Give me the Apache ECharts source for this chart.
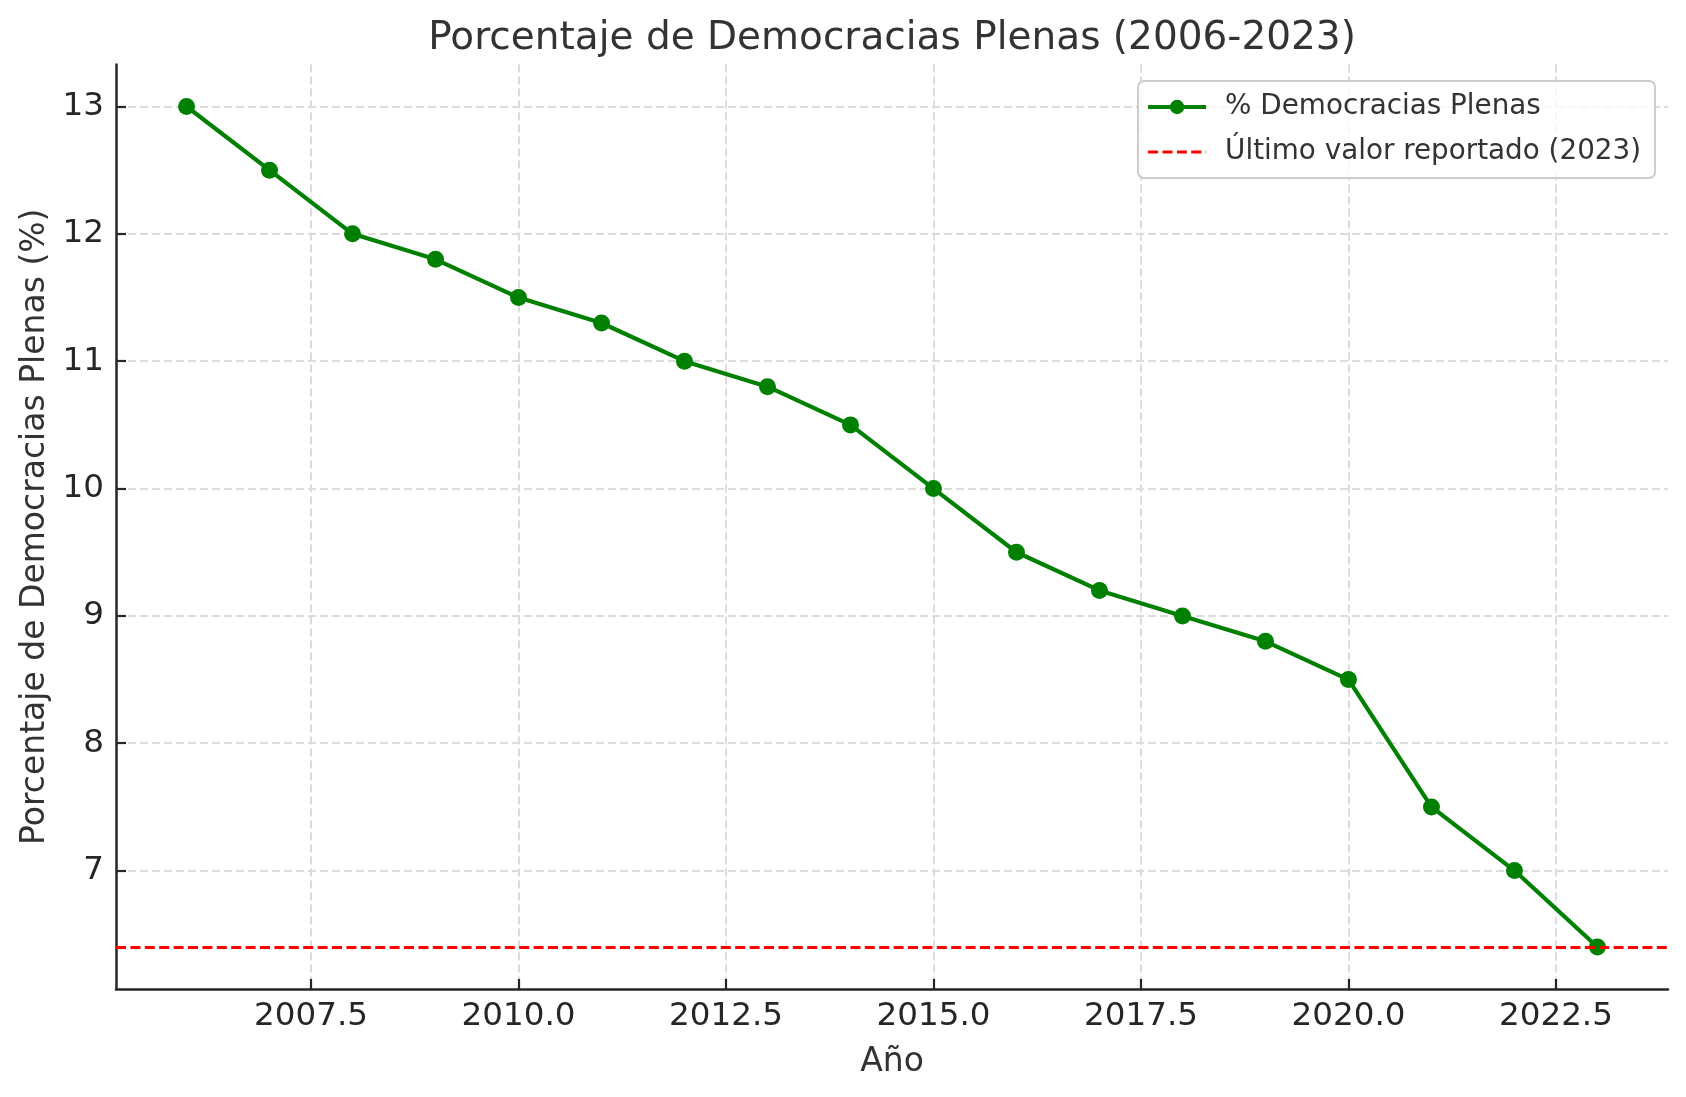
<!DOCTYPE html>
<html>
<head>
<meta charset="utf-8">
<script src="https://cdn.jsdelivr.net/npm/echarts@6/dist/echarts.min.js"></script>
<style>
html,body{margin:0;padding:0;background:#fff;}
#chart{width:1686px;height:1097px;}
</style>
</head>
<body>
<div id="chart"></div>
<script>
const years = [2006, 2007, 2008, 2009, 2010, 2011, 2012, 2013, 2014, 2015, 2016, 2017, 2018, 2019, 2020, 2021, 2022, 2023];
const percentages = [13, 12.5, 12, 11.8, 11.5, 11.3, 11, 10.8, 10.5, 10, 9.5, 9.2, 9, 8.8, 8.5, 7.5, 7, 6.4];
const lastValue = 6.4;
const xTicks = [2007.5, 2010, 2012.5, 2015, 2017.5, 2020, 2022.5];
const yTicks = [7, 8, 9, 10, 11, 12, 13];
const seriesName = '% Democracias Plenas';
const refName = 'Último valor reportado (2023)';
const titleText = 'Porcentaje de Democracias Plenas (2006-2023)';
const xName = 'Año';
const yName = 'Porcentaje de Democracias Plenas (%)';

const FONT = 'DejaVu Sans';
const xMin = 2005.15, xMax = 2023.85;
const yMin = 6.07, yMax = 13.33;

const chart = echarts.init(document.getElementById('chart'));
const axisCommon = {
  axisLine: {show: true, lineStyle: {color: '#262626', width: 2.5}},
  axisTick: {show: true, inside: true, length: 10, lineStyle: {color: '#262626', width: 2.2}},
  splitLine: {show: true, lineStyle: {color: '#dcdcdc', width: 2, type: [8, 4]}},
};
chart.setOption({
  animation: false,
  backgroundColor: '#fff',
  title: {
    text: titleText, left: 887, textAlign: 'center', top: 14,
    textStyle: {fontFamily: FONT, fontSize: 39, fontWeight: 'normal', color: '#333'}
  },
  legend: {
    left: 1138, top: 81, orient: 'vertical',
    data: [
      {name: seriesName, lineStyle: {width: 4.2}},
      {name: refName, lineStyle: {width: 2.8}, itemStyle: {opacity: 0}}
    ],
    itemWidth: 58, itemHeight: 18, itemGap: 13,
    padding: [10, 14, 10, 8],
    borderColor: '#cccccc', borderWidth: 2, borderRadius: 6,
    backgroundColor: 'rgba(255,255,255,0.8)',
    textStyle: {fontFamily: FONT, fontSize: 27.8, color: '#333', lineHeight: 32, padding: [0, 0, 0, 14]}
  },
  grid: {left: 116, right: 18, top: 64.5, bottom: 108, containLabel: false},
  xAxis: Object.assign({}, axisCommon, {
    type: 'value', min: xMin, max: xMax,
    name: xName, nameLocation: 'middle', nameGap: 57,
    nameTextStyle: {fontFamily: FONT, fontSize: 33, color: '#333'},
    axisTick: Object.assign({}, axisCommon.axisTick, {customValues: xTicks}),
    axisLabel: {customValues: xTicks, margin: 11, fontFamily: FONT, fontSize: 32.6, color: '#262626',
      formatter: v => v.toFixed(1)},
  }),
  yAxis: Object.assign({}, axisCommon, {
    type: 'value', min: yMin, max: yMax,
    name: yName, nameLocation: 'middle', nameGap: 54,
    nameTextStyle: {fontFamily: FONT, fontSize: 33, color: '#333'},
    axisTick: Object.assign({}, axisCommon.axisTick, {customValues: yTicks}),
    axisLabel: {customValues: yTicks, margin: 12, fontFamily: FONT, fontSize: 32.6, color: '#262626'},
  }),
  series: [
    {
      name: seriesName, type: 'line', z: 3,
      data: years.map((y, i) => [y, percentages[i]]),
      symbol: 'circle', symbolSize: 17, showSymbol: true,
      itemStyle: {color: 'green'},
      lineStyle: {color: 'green', width: 4.2}
    },
    {
      name: refName, type: 'line', z: 1, data: [], symbol: 'none',
      itemStyle: {color: 'red'},
      lineStyle: {color: 'red', width: 2.8, type: [10, 4.4]},
      markLine: {
        silent: true, symbol: 'none', label: {show: false},
        lineStyle: {color: 'red', width: 2.8, type: [10, 4.4]},
        data: [{yAxis: lastValue}]
      }
    }
  ]
});
</script>
</body>
</html>
